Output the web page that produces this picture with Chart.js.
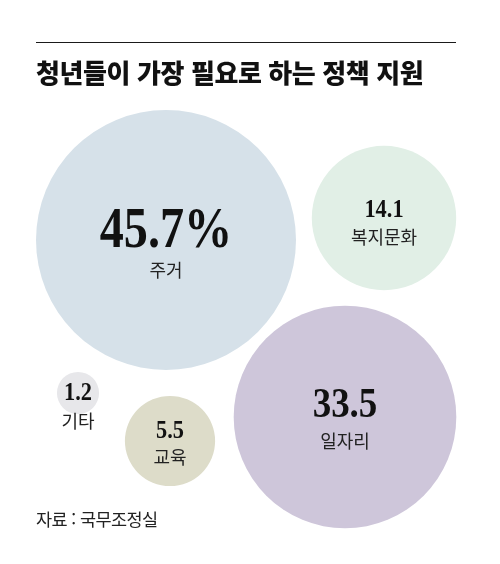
<!DOCTYPE html>
<html lang="ko">
<head>
<meta charset="utf-8">
<script src="https://cdn.jsdelivr.net/npm/chart.js@4.4.1/dist/chart.umd.min.js"></script>
<style>
  html, body { margin: 0; padding: 0; background: #ffffff; }
  #wrap { position: relative; width: 500px; height: 564px; overflow: hidden; }
  #chart { position: absolute; left: 0; top: 0; }
  #rule { position: absolute; left: 36px; top: 42px; width: 420px; height: 0; border-top: 1.6px solid #1a1a1a; }
  #title { position: absolute; left: 36px; top: 58px; font: 900 26px/28px "Noto Sans CJK KR", sans-serif; color: #111; letter-spacing: -0.4px; white-space: nowrap; }
  #source { position: absolute; left: 36px; top: 509px; font: 400 17.5px/20px "Noto Sans CJK KR", sans-serif; color: #222; white-space: nowrap; letter-spacing: -0.6px; }
</style>
</head>
<body>
<div id="wrap">
  <canvas id="chart" width="500" height="564"></canvas>
  <div id="rule"></div>
  <div id="title">청년들이 가장 필요로 하는 정책 지원</div>
  <div id="source">자료 : 국무조정실</div>
</div>
<script>
// ---- data ----
const categories = ['주거', '일자리', '복지문화', '교육', '기타'];
const values = [45.7, 33.5, 14.1, 5.5, 1.2];
const valueLabels = ['45.7%', '33.5', '14.1', '5.5', '1.2'];

// ---- layout (bubble centres in pixel-space scale units) ----
const centerX = [166, 345, 384, 170, 78];
const centerY = [240, 417, 218, 441, 393];
const numberBaseline = [247, 417, 217, 438, 400];
const labelMiddle = [270, 441, 237, 457, 421];
const numberFontSize = [56, 43, 26, 26, 26];
const radiusPerSqrt = 130 / Math.sqrt(45.7);

// ---- styles ----
const fillColors = ['#d6e1e9', '#cec6da', '#e1efe6', '#dddcc9', '#e7e7ea'];

const labelPlugin = {
  id: 'bubbleLabels',
  afterDatasetsDraw(chart) {
    const ctx = chart.ctx;
    const xs = chart.scales.x, ys = chart.scales.y;
    ctx.save();
    categories.forEach((cat, i) => {
      const cx = xs.getPixelForValue(centerX[i]);
      // number
      ctx.save();
      ctx.translate(cx, ys.getPixelForValue(numberBaseline[i]));
      ctx.scale(0.86, 1);
      ctx.font = 'bold ' + numberFontSize[i] + 'px "Liberation Serif", serif';
      ctx.fillStyle = '#111';
      ctx.textAlign = 'center';
      ctx.textBaseline = 'alphabetic';
      ctx.fillText(valueLabels[i], 0, 0);
      ctx.restore();
      // category label
      ctx.font = '400 18px "Noto Sans CJK KR", sans-serif';
      ctx.fillStyle = '#222';
      ctx.textAlign = 'center';
      ctx.textBaseline = 'middle';
      ctx.fillText(cat, cx, ys.getPixelForValue(labelMiddle[i]));
    });
    ctx.restore();
  }
};

new Chart(document.getElementById('chart'), {
  type: 'bubble',
  data: {
    datasets: [{
      data: categories.map((c, i) => ({ x: centerX[i], y: centerY[i], r: radiusPerSqrt * Math.sqrt(values[i]) })),
      backgroundColor: fillColors,
      hoverBackgroundColor: fillColors,
      borderWidth: 0,
      hoverBorderWidth: 0,
      clip: false
    }]
  },
  options: {
    responsive: false,
    animation: false,
    events: [],
    layout: { padding: 0, autoPadding: false },
    plugins: { legend: { display: false }, tooltip: { enabled: false }, title: { display: false } },
    scales: {
      x: { type: 'linear', min: 0, max: 500, display: false },
      y: { type: 'linear', min: 0, max: 564, reverse: true, display: false }
    }
  },
  plugins: [labelPlugin]
});
</script>
</body>
</html>
